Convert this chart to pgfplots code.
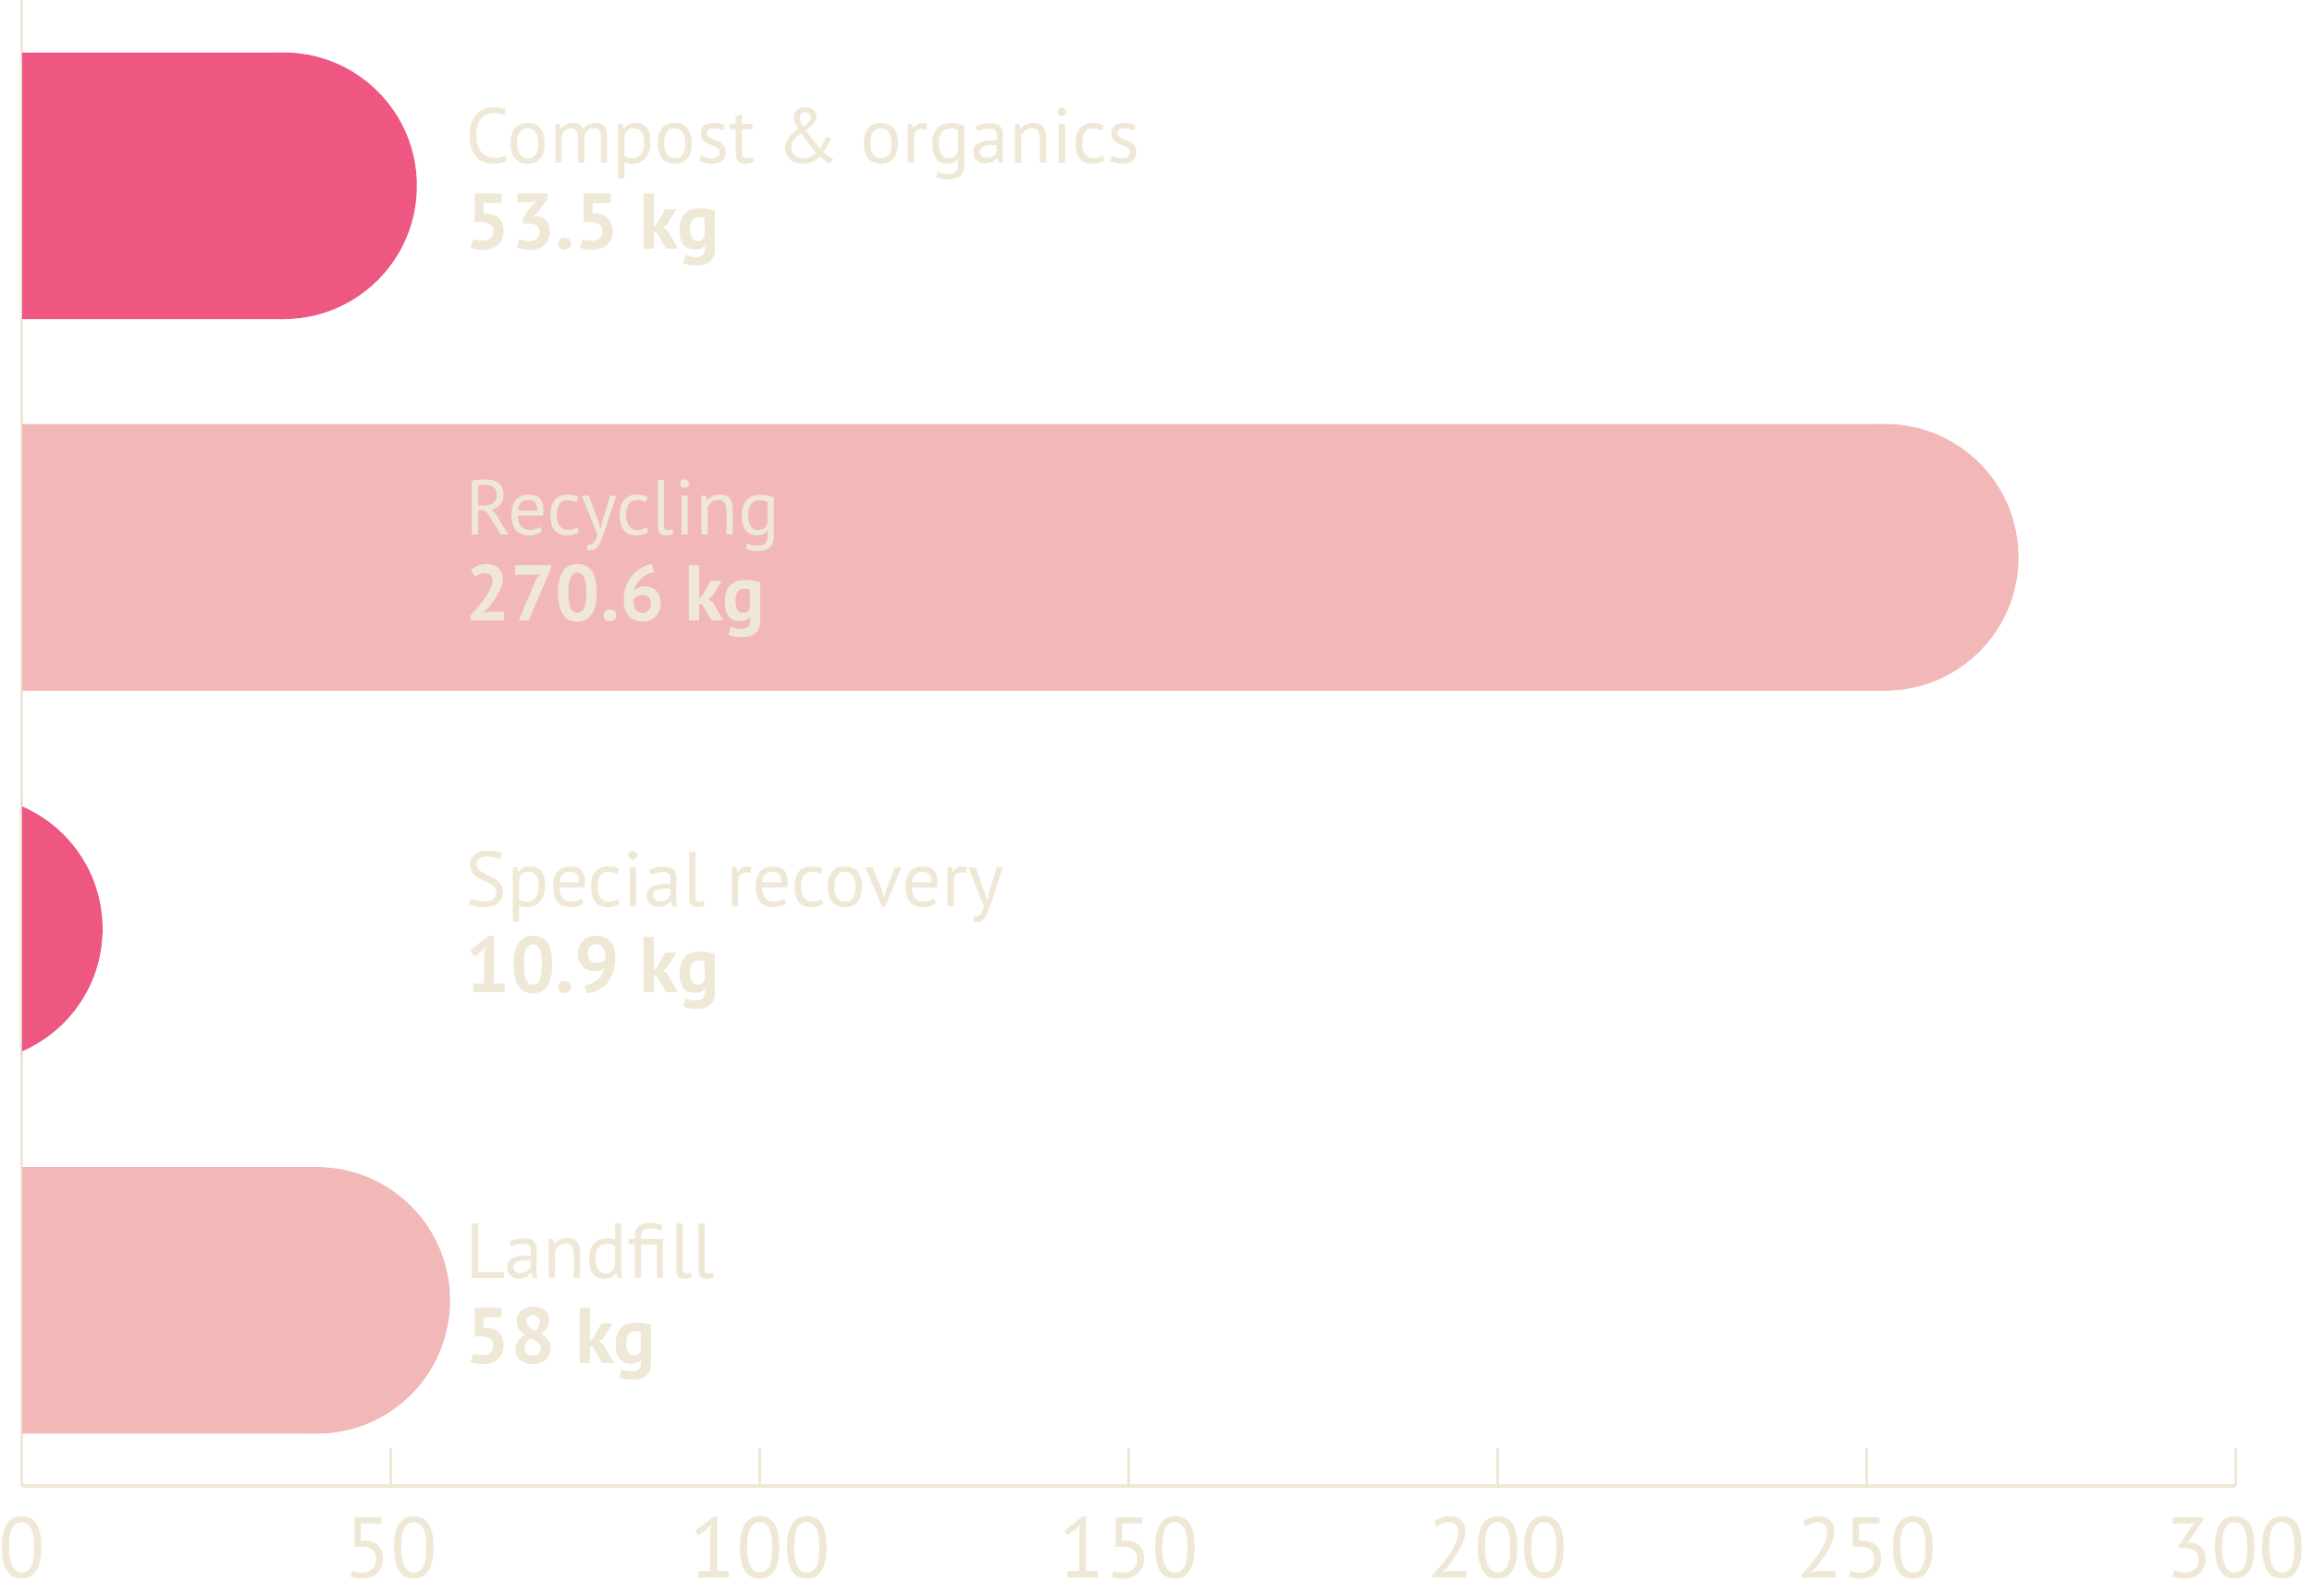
\documentclass[border=0pt]{standalone}
\usepackage{fontspec}
\setmainfont{PT Sans}
\usepackage{pgfplots}
\usepackage{pgfplotstable}
\pgfplotsset{compat=1.18}
\usetikzlibrary{calc}

\definecolor{hotpink}{HTML}{EF5783}
\definecolor{softpink}{HTML}{F2B8B7}
\definecolor{cream}{HTML}{F0E8D6}

% alternating colours: dark rows and light rows
\pgfplotstableread[col sep=comma]{
pos,kg,name
3,53.5,Compost \& organics
1,10.9,Special recovery
}\darkbars
\pgfplotstableread[col sep=comma]{
pos,kg,name
2,270.6,Recycling
0,58,Landfill
}\lightbars

% cap radius: 22.6pt = 18.07 x-units
\def\capr{18.07}

% round end cap: a circle whose right edge sits on the data point
\pgfdeclareplotmark{cap}{%
  \pgfpathcircle{\pgfpoint{-\pgfplotmarksize}{0pt}}{\pgfplotmarksize}%
  \pgfusepathqfill}

\begin{document}
\begin{tikzpicture}
\begin{axis}[
  scale only axis, width=375.25pt, height=252pt,
  xmin=0, xmax=300, ymin=-0.5, ymax=3.5,
  axis x line=bottom, axis y line=left,
  axis line style={draw=cream, -},
  x axis line style={line width=0.7pt},
  y axis line style={line width=0.45pt},
  xtick={0,50,...,300}, ytick=\empty,
  tick align=inside, major tick length=6.5pt,
  xtick style={draw=cream, line width=0.45pt},
  xticklabel style={font=\fontsize{14.6}{15}\selectfont, text=cream,
    anchor=north, inner sep=0pt, yshift=-5pt},
  /pgf/number format/assume math mode=true,
  clip marker paths=true,
  name names/.style={draw=none, mark=none, point meta=explicit symbolic,
    nodes near coords={\pgfplotspointmeta},
    nodes near coords style={anchor=base west, inner sep=0pt, yshift=3.75pt,
      text=cream, font=\fontsize{13.2}{14}\selectfont}},
  name vals/.style={draw=none, mark=none, point meta=explicit symbolic,
    nodes near coords={\pgfplotspointmeta\ kg},
    nodes near coords style={anchor=base west, inner sep=0pt, yshift=-10.75pt,
      text=cream, font=\bfseries\fontsize{13.4}{14}\selectfont}},
]
\coordinate (sw) at (rel axis cs:0,0);
\coordinate (ne) at (rel axis cs:1,1);

\addplot[xbar, bar shift=0pt, bar width=45.2pt, fill=hotpink, draw=none]
  table[x expr=\thisrow{kg}-\capr, y=pos]{\darkbars};
\addplot[only marks, mark=cap, mark size=22.6pt, mark options={fill=hotpink}]
  table[x=kg, y=pos]{\darkbars};

\addplot[xbar, bar shift=0pt, bar width=45.2pt, fill=softpink, draw=none]
  table[x expr=\thisrow{kg}-\capr, y=pos]{\lightbars};
\addplot[only marks, mark=cap, mark size=22.6pt, mark options={fill=softpink}]
  table[x=kg, y=pos]{\lightbars};

\addplot[name names] table[x expr=60, y=pos, meta=name]{\darkbars};
\addplot[name names] table[x expr=60, y=pos, meta=name]{\lightbars};
\addplot[name vals] table[x expr=60, y=pos, meta=kg]{\darkbars};
\addplot[name vals] table[x expr=60, y=pos, meta=kg]{\lightbars};
\end{axis}
\pgfresetboundingbox
\useasboundingbox ($(sw)+(-3.75pt,-18.5pt)$) rectangle ($(ne)+(13pt,0pt)$);
\end{tikzpicture}
\end{document}
